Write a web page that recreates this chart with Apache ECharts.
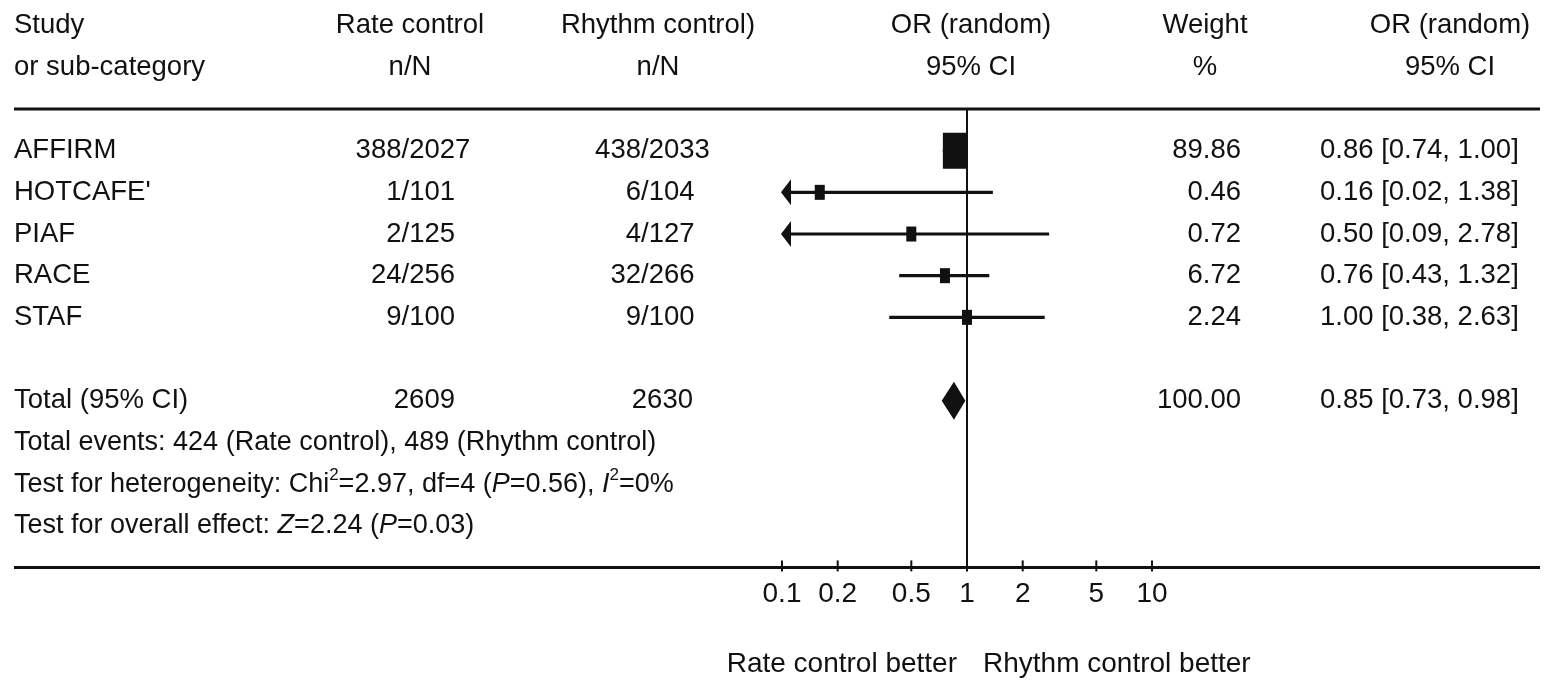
<!DOCTYPE html>
<html><head><meta charset="utf-8">
<script src="https://cdn.jsdelivr.net/npm/echarts@6/dist/echarts.min.js"></script>
<style>html,body{margin:0;padding:0;background:#fff}#c{width:1545px;height:683px}</style>
</head><body><div id="c"></div>
<script>
// ---- data ----
const studies = ['AFFIRM', "HOTCAFE'", 'PIAF', 'RACE', 'STAF'];
const rateCounts = ['388/2027', '1/101', '2/125', '24/256', '9/100'];
const rhythmCounts = ['438/2033', '6/104', '4/127', '32/266', '9/100'];
const weights = [89.86, 0.46, 0.72, 6.72, 2.24];
const oddsRatios = [0.86, 0.16, 0.50, 0.76, 1.00];
const ciLower = [0.74, 0.02, 0.09, 0.43, 0.38];
const ciUpper = [1.00, 1.38, 2.78, 1.32, 2.63];
const totalLabel = 'Total (95% CI)';
const totalRate = 2609;
const totalRhythm = 2630;
const totalWeight = 100.00;
const totalOR = 0.85;
const totalLower = 0.73;
const totalUpper = 0.98;
const totalEventsRate = 424;
const totalEventsRhythm = 489;
const chi2 = 2.97, hetDf = 4, hetP = 0.56, iSquared = 0;
const zValue = 2.24, overallP = 0.03;
const tickValues = [0.1, 0.2, 0.5, 1, 2, 5, 10];
const tickLabels = ['0.1', '0.2', '0.5', '1', '2', '5', '10'];
const headerRow1 = ['Study', 'Rate control', 'Rhythm control)', 'OR (random)', 'Weight', 'OR (random)'];
const headerRow2 = ['or sub-category', 'n/N', 'n/N', '95% CI', '%', '95% CI'];
const favourLabels = ['Rate control better', 'Rhythm control better'];

// ---- layout/style ----
const XMIN = 0.1, XMAX = 10;
const AXIS_ROW = 11;
const INK = '#111';
const FONT = "'Liberation Sans', Arial, Helvetica, sans-serif";
const FS = 27.5;
const FS_FOOT = 27;
const studyRow = i => i + 1;
const TOTAL_ROW = 7;
const maxW = Math.max.apply(null, weights);

const chart = echarts.init(document.getElementById('c'));

const ciData = studies.map((s, i) => [ciLower[i], studyRow(i), ciUpper[i]]);
const boxData = studies.map((s, i) => [oddsRatios[i], studyRow(i)]);
const diamondData = [[totalLower, TOTAL_ROW, totalUpper, totalOR]];
const tickData = tickValues.map(v => [v, AXIS_ROW]);

const option = {
  animation: false,
  backgroundColor: '#fff',
  grid: { left: 782, width: 370, top: 109, height: 458.4, containLabel: false },
  xAxis: [{
    type: 'log', logBase: 10, min: XMIN, max: XMAX, position: 'bottom',
    axisLine: { show: false },
    splitLine: { show: false },
    axisTick: { show: false },
    axisLabel: { show: true, customValues: tickValues, margin: 13, color: INK, fontSize: 28, fontFamily: FONT,
      formatter: v => { const k = tickValues.findIndex(t => Math.abs(t - v) < 1e-9); return k >= 0 ? tickLabels[k] : ''; } }
  }],
  yAxis: { type: 'value', inverse: true, min: 0, max: AXIS_ROW, show: false, splitLine: { show: false } },
  series: [{
    type: 'custom', name: 'ticks', data: tickData, encode: { x: 0, y: 1 }, z: 5, silent: true,
    renderItem: (params, api) => {
      const p = api.coord([api.value(0), api.value(1)]);
      return { type: 'line', shape: { x1: p[0], y1: p[1] - 7, x2: p[0], y2: p[1] + 4 }, style: { stroke: INK, lineWidth: 2 } };
    }
  }, {
    type: 'custom', name: 'CI', data: ciData, encode: { x: [0, 2], y: 1 }, z: 3,
    renderItem: (params, api) => {
      const lo = api.value(0), r = api.value(1), hi = api.value(2);
      const p1 = api.coord([Math.max(lo, XMIN), r]);
      const p2 = api.coord([Math.min(hi, XMAX), r]);
      const children = [{ type: 'line', shape: { x1: p1[0], y1: p1[1], x2: p2[0], y2: p2[1] },
        style: { stroke: INK, lineWidth: 3.2 } }];
      if (lo < XMIN) {
        children.push({ type: 'polygon', shape: { points: [[p1[0] - 1, p1[1]], [p1[0] + 9, p1[1] - 13], [p1[0] + 9, p1[1] + 13]] },
          style: { fill: INK } });
      }
      return { type: 'group', children };
    }
  }, {
    type: 'scatter', name: 'OR', data: boxData, symbol: 'rect', z: 4,
    symbolSize: (val, p) => { const w = Math.max(10, 24 * Math.sqrt(weights[p.dataIndex] / maxW)); return [w, w * 1.5]; },
    itemStyle: { color: INK, opacity: 1 }
  }, {
    type: 'custom', name: 'Total', data: diamondData, encode: { x: [0, 2, 3], y: 1 }, z: 4,
    renderItem: (params, api) => {
      const r = api.value(1);
      const l = api.coord([api.value(0), r]);
      const u = api.coord([api.value(2), r]);
      const m = api.coord([api.value(3), r]);
      return { type: 'polygon', shape: { points: [[l[0], l[1]], [m[0], m[1] - 19], [u[0], u[1]], [m[0], m[1] + 19]] },
        style: { fill: INK } };
    },
    markLine: { silent: true, symbol: 'none', label: { show: false },
      lineStyle: { color: INK, width: 2, type: 'solid' }, data: [{ xAxis: 1 }] }
  }]
};
chart.setOption(option);

// ---- table text, positioned on the row axis ----
const rowY = r => chart.convertToPixel({ yAxisIndex: 0 }, r);
const oneX = chart.convertToPixel({ xAxisIndex: 0 }, 1);
const headerX = [14, 410, 658, 971, 1205, 1450];
const headerAlign = ['left', 'center', 'center', 'center', 'center', 'center'];
const rateSlashX = 401.5, rhythmSlashX = 641;
const rateTotalRight = 455, rhythmTotalRight = 693;
const weightRight = 1241;
const ciLeft = 1320;
const els = [];
function txt(x, y, text, align, extra) {
  const style = Object.assign({ text: text, fill: INK, fontSize: FS, fontFamily: FONT,
    align: align, verticalAlign: 'middle', textAlign: align, textVerticalAlign: 'middle' }, extra || {});
  els.push({ type: 'text', x: x, y: y, silent: true, style: style });
}
function count(x, y, str) {
  const k = str.indexOf('/');
  txt(x, y, str.slice(0, k), 'right');
  txt(x, y, str.slice(k), 'left');
}
const fmtCI = (o, l, u) => o.toFixed(2) + ' [' + l.toFixed(2) + ', ' + u.toFixed(2) + ']';

headerRow1.forEach((t, k) => txt(headerX[k], rowY(-2), t, headerAlign[k]));
headerRow2.forEach((t, k) => txt(headerX[k], rowY(-1), t, headerAlign[k]));

studies.forEach((s, i) => {
  const y = rowY(studyRow(i));
  txt(headerX[0], y, s, 'left');
  count(rateSlashX, y, rateCounts[i]);
  count(rhythmSlashX, y, rhythmCounts[i]);
  txt(weightRight, y, weights[i].toFixed(2), 'right');
  txt(ciLeft, y, fmtCI(oddsRatios[i], ciLower[i], ciUpper[i]), 'left');
});
const ty = rowY(TOTAL_ROW);
txt(headerX[0], ty, totalLabel, 'left');
txt(rateTotalRight, ty, String(totalRate), 'right');
txt(rhythmTotalRight, ty, String(totalRhythm), 'right');
txt(weightRight, ty, totalWeight.toFixed(2), 'right');
txt(ciLeft, ty, fmtCI(totalOR, totalLower, totalUpper), 'left');

const rich = {
  n: { fontSize: FS_FOOT, fontFamily: FONT, fill: INK, color: INK, lineHeight: 34 },
  i: { fontSize: FS_FOOT, fontFamily: FONT, fill: INK, color: INK, lineHeight: 34, fontStyle: 'italic' },
  s: { fontSize: 17, fontFamily: FONT, fill: INK, color: INK, lineHeight: 18, verticalAlign: 'top' }
};
const footStyle = { rich: rich, fontSize: FS_FOOT };
txt(headerX[0], rowY(8), '{n|Total events: ' + totalEventsRate + ' (Rate control), ' + totalEventsRhythm + ' (Rhythm control)}', 'left', footStyle);
txt(headerX[0], rowY(9), '{n|Test for heterogeneity: Chi}{s|2}{n|=' + chi2.toFixed(2) + ', df=' + hetDf + ' (}{i|P}{n|=' + hetP.toFixed(2) + '), }{i|I}{s|2}{n|=' + iSquared + '%}', 'left', footStyle);
txt(headerX[0], rowY(10), '{n|Test for overall effect: }{i|Z}{n|=' + zValue.toFixed(2) + ' (}{i|P}{n|=' + overallP.toFixed(2) + ')}', 'left', footStyle);

// rules
[0, AXIS_ROW].forEach(r => {
  const y = rowY(r);
  els.push({ type: 'line', silent: true, shape: { x1: 14, y1: y, x2: 1540, y2: y }, style: { stroke: INK, lineWidth: 3 } });
});

// favour labels
txt(oneX - 10, 664, favourLabels[0], 'right', { fontSize: 28 });
txt(oneX + 16, 664, favourLabels[1], 'left', { fontSize: 28 });

chart.setOption({ graphic: { elements: els } });
</script>
</body></html>
